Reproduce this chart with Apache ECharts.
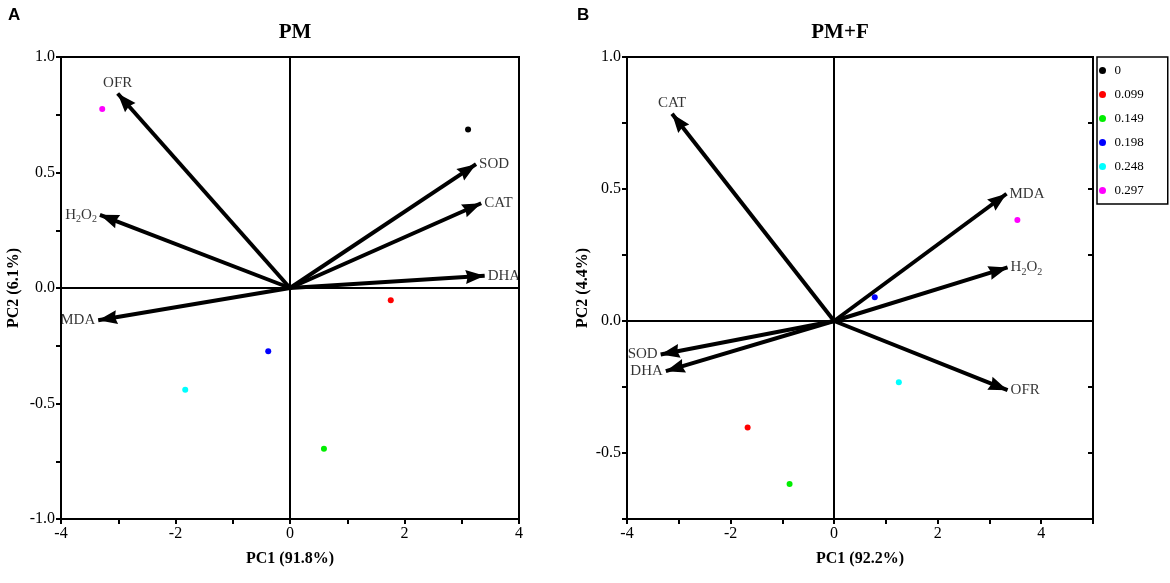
<!DOCTYPE html>
<html>
<head>
<meta charset="utf-8">
<script src="https://cdn.jsdelivr.net/npm/echarts@6/dist/echarts.min.js"></script>
<style>
  html, body { margin: 0; padding: 0; background: #fff; }
  #chart { width: 1170px; height: 583px; }
</style>
</head>
<body>
<div id="chart"></div>
<script>
// groups (legend) and their colours
var groups = ['0', '0.099', '0.149', '0.198', '0.248', '0.297'];
var groupColors = ['#000000', '#ff0000', '#00ee00', '#0000ff', '#00ffff', '#ff00ff'];

// panel A: PM  (sample scores, one per group)
var pmScores = [[3.11, 0.686], [1.76, -0.053], [0.593, -0.696], [-0.38, -0.274], [-1.83, -0.441], [-3.28, 0.775]];
var pmVars = ['OFR', 'H2O2', 'MDA', 'SOD', 'CAT', 'DHA'];
var pmLoadings = [[-3.01, 0.842], [-3.32, 0.317], [-3.35, -0.14], [3.25, 0.536], [3.34, 0.367], [3.40, 0.053]];

// panel B: PM+F  (group "0" is not visible in this panel)
var pmfScores = [null, [-1.67, -0.403], [-0.86, -0.617], [0.785, 0.09], [1.25, -0.232], [3.54, 0.383]];
var pmfVars = ['CAT', 'MDA', 'H2O2', 'OFR', 'SOD', 'DHA'];
var pmfLoadings = [[-3.13, 0.785], [3.33, 0.482], [3.35, 0.203], [3.35, -0.262], [-3.35, -0.127], [-3.25, -0.19]];

var serif = 'Liberation Serif';
// solid arrow head; the empty upper half keeps the tip on the line's end point
var arrowHead = 'path://M7,19 L14,38 L7,36 L0,38 Z M7,0 L7,0';

function fmtName(n) {
  return n === 'H2O2' ? 'H{s|2}O{s|2}' : n;
}

function xAxisOf(grid, max, name) {
  return {
    gridIndex: grid, type: 'value', min: -4, max: max, interval: 1,
    axisLine: { onZero: false, lineStyle: { color: '#000', width: 2 } },
    axisTick: { length: 5, lineStyle: { color: '#000', width: 2 } },
    splitLine: { show: false },
    axisLabel: {
      color: '#000', fontFamily: serif, fontSize: 16, margin: 7,
      formatter: function (v) { return v % 2 === 0 ? String(v) : ''; }
    },
    name: name, nameLocation: 'middle', nameGap: 32,
    nameTextStyle: { color: '#000', fontFamily: serif, fontSize: 16, fontWeight: 'bold' }
  };
}

function yAxisOf(grid, min, name, gap) {
  return {
    gridIndex: grid, type: 'value', min: min, max: 1, interval: 0.25,
    axisLine: { onZero: false, lineStyle: { color: '#000', width: 2 } },
    axisTick: { length: 5, lineStyle: { color: '#000', width: 2 } },
    splitLine: { show: false },
    axisLabel: {
      color: '#000', fontFamily: serif, fontSize: 16, margin: 6,
      formatter: function (v) {
        return Math.abs(v * 2 - Math.round(v * 2)) < 1e-9 ? v.toFixed(1) : '';
      }
    },
    name: name, nameLocation: 'middle', nameGap: gap,
    nameTextStyle: { color: '#000', fontFamily: serif, fontSize: 16, fontWeight: 'bold' }
  };
}

function panelSeries(grid, scores, vars, loadings) {
  var out = [];
  groups.forEach(function (g, i) {
    out.push({
      name: g, type: 'scatter', xAxisIndex: grid, yAxisIndex: grid,
      symbolSize: 6, itemStyle: { color: groupColors[i], opacity: 1 },
      data: scores[i] ? [scores[i]] : [], z: 5
    });
  });
  out.push({
    type: 'lines', coordinateSystem: 'cartesian2d', xAxisIndex: grid, yAxisIndex: grid,
    symbol: ['none', arrowHead], symbolSize: [1, [14, 38]], silent: true,
    lineStyle: { color: '#000', width: 4, opacity: 1 },
    data: loadings.map(function (p) { return { coords: [[0, 0], p] }; }),
    z: 4
  });
  out.push({
    type: 'scatter', xAxisIndex: grid, yAxisIndex: grid, symbolSize: 0, silent: true,
    data: loadings.map(function (p, i) {
      var pos = Math.abs(p[1]) > 0.7 ? 'top' : (p[0] < 0 ? 'left' : 'right');
      return { value: p, name: vars[i], label: { position: pos } };
    }),
    label: {
      show: true, distance: 3, color: '#000', fontFamily: serif, fontSize: 15,
      formatter: function (p) { return fmtName(p.name); },
      rich: { s: { fontFamily: serif, fontSize: 10, verticalAlign: 'bottom', padding: [9, 0, 0, 0], color: '#000' } }
    },
    markLine: {
      silent: true, symbol: 'none', label: { show: false },
      lineStyle: { color: '#000', width: 2, type: 'solid' },
      data: [{ xAxis: 0 }, { yAxis: 0 }]
    },
    z: 6
  });
  return out;
}

var chart = echarts.init(document.getElementById('chart'));

var yRight = yAxisOf(1, -0.75, '', 0);
yRight.position = 'right';
yRight.axisLabel = { show: false };
yRight.axisTick = { inside: true, length: 5, lineStyle: { color: '#000', width: 2 } };

var option = {
  backgroundColor: '#fff',
  animation: false,
  title: [
    { text: 'A', left: 3, top: 2, textStyle: { fontFamily: 'Liberation Sans', fontWeight: 'bold', fontSize: 17, color: '#000' } },
    { text: 'B', left: 572, top: 2, textStyle: { fontFamily: 'Liberation Sans', fontWeight: 'bold', fontSize: 17, color: '#000' } },
    { text: 'PM', left: 290, top: 17, textAlign: 'center', textStyle: { fontFamily: serif, fontWeight: 'bold', fontSize: 21, color: '#000' } },
    { text: 'PM+F', left: 835, top: 17, textAlign: 'center', textStyle: { fontFamily: serif, fontWeight: 'bold', fontSize: 21, color: '#000' } }
  ],
  legend: {
    data: groups, orient: 'vertical', left: 1097, top: 57,
    icon: 'circle', itemWidth: 14, itemHeight: 7, itemGap: 11,
    padding: [7, 24, 7, 2],
    borderColor: '#000', borderWidth: 1.5,
    textStyle: { fontFamily: serif, fontSize: 13, color: '#000' }
  },
  grid: [
    { left: 61, top: 57, width: 458, height: 462, show: true, borderColor: '#000', borderWidth: 2 },
    { left: 627, top: 57, width: 466, height: 462, show: true, borderColor: '#000', borderWidth: 2 }
  ],
  xAxis: [xAxisOf(0, 4, 'PC1 (91.8%)'), xAxisOf(1, 5, 'PC1 (92.2%)')],
  yAxis: [yAxisOf(0, -1, 'PC2 (6.1%)', 39), yAxisOf(1, -0.75, 'PC2 (4.4%)', 36), yRight],
  series: panelSeries(0, pmScores, pmVars, pmLoadings)
    .concat(panelSeries(1, pmfScores, pmfVars, pmfLoadings))
};

chart.setOption(option);
</script>
</body>
</html>
